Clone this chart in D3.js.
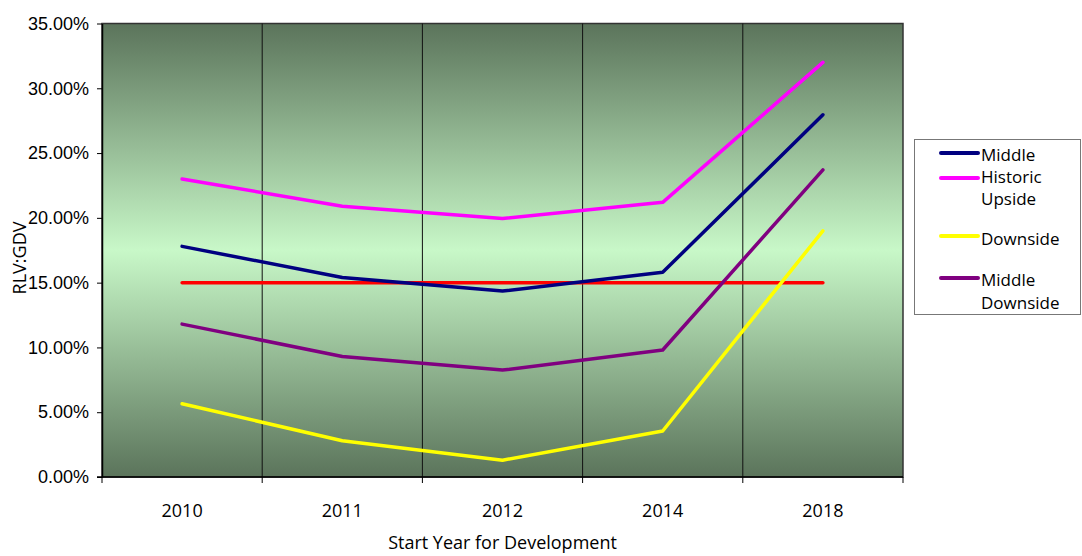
<!DOCTYPE html>
<html>
<head>
<meta charset="utf-8">
<script src="https://cdn.jsdelivr.net/npm/d3@7"></script>
<style>
  body { margin: 0; background: #fff; }
  svg { font-family: "Open Sans", Lato, sans-serif; }
</style>
</head>
<body>
<svg id="chart" width="1082" height="556"></svg>
<script>
// chart data (percent values)
const years = ["2010", "2011", "2012", "2014", "2018"];
const middleHistoric = [17.8, 15.4, 14.35, 15.8, 27.95];
const upside = [23.0, 20.9, 19.95, 21.2, 32.0];
const downside = [5.65, 2.8, 1.3, 3.55, 19.0];
const middleDownside = [11.8, 9.3, 8.25, 9.8, 23.7];
const benchmark = [15, 15, 15, 15, 15];
const yTicks = [0, 5, 10, 15, 20, 25, 30, 35];

const series = [
  { name: "Middle Historic", values: middleHistoric, color: "#000080", legend: ["Middle", "Historic"] },
  { name: "Upside", values: upside, color: "#ff00ff", legend: ["Upside"] },
  { name: "Downside", values: downside, color: "#ffff00", legend: ["Downside"] },
  { name: "Middle Downside", values: middleDownside, color: "#800080", legend: ["Middle", "Downside"] },
  { name: "Benchmark", values: benchmark, color: "#ff0000", legend: null }
];

const margin = { top: 23.5, right: 179, bottom: 79, left: 102 };
const width = 1082, height = 556;
const fs = 18;
const svg = d3.select("#chart");

const x = d3.scaleBand().domain(years).range([margin.left, width - margin.right]).paddingInner(0).paddingOuter(0);
const y = d3.scaleLinear().domain([0, 35]).range([height - margin.bottom, margin.top]);

// background gradient
const defs = svg.append("defs");
const grad = defs.append("linearGradient").attr("id", "bg").attr("x1", 0).attr("y1", 0).attr("x2", 0).attr("y2", 1);
grad.append("stop").attr("offset", "0%").attr("stop-color", "#5b745b");
grad.append("stop").attr("offset", "50%").attr("stop-color", "#c8f8c8");
grad.append("stop").attr("offset", "100%").attr("stop-color", "#5b745b");

svg.append("rect")
    .attr("x", x.range()[0])
    .attr("y", y(35))
    .attr("width", x.range()[1] - x.range()[0])
    .attr("height", y(0) - y(35))
    .attr("fill", "url(#bg)")
    .attr("stroke", "#333")
    .attr("stroke-width", 1.5);

// vertical gridlines between categories
const bounds = years.map(d => x(d)).concat([x.range()[1]]);
svg.append("g").selectAll("line")
    .data(bounds.slice(1, -1))
    .enter().append("line")
    .attr("x1", d => d).attr("x2", d => d)
    .attr("y1", y(35)).attr("y2", y(0))
    .attr("stroke", "#111").attr("stroke-width", 1);

// y axis
const yAxis = svg.append("g")
    .attr("transform", "translate(" + margin.left + ",0)")
    .call(d3.axisLeft(y).tickValues(yTicks).tickSize(5).tickSizeOuter(0).tickFormat(d => d.toFixed(2) + "%"));
yAxis.select(".domain").attr("stroke", "#000").attr("stroke-width", 1.5);
yAxis.selectAll("text").attr("font-size", fs).attr("fill", "#000").attr("x", -13);

// x axis: line, ticks at category boundaries, labels at centres
svg.append("line")
    .attr("x1", margin.left - 5).attr("x2", x.range()[1])
    .attr("y1", y(0)).attr("y2", y(0))
    .attr("stroke", "#000").attr("stroke-width", 1.5);
svg.append("g").selectAll("line")
    .data(bounds)
    .enter().append("line")
    .attr("x1", d => d).attr("x2", d => d)
    .attr("y1", y(0)).attr("y2", y(0) + 6)
    .attr("stroke", "#000");
svg.append("g").selectAll("text")
    .data(years)
    .enter().append("text")
    .attr("x", d => x(d) + x.bandwidth() / 2)
    .attr("y", 517)
    .attr("text-anchor", "middle")
    .attr("font-size", fs)
    .text(d => d);

// axis titles
svg.append("text")
    .attr("x", (x.range()[0] + x.range()[1]) / 2)
    .attr("y", 549)
    .attr("text-anchor", "middle")
    .attr("font-size", fs)
    .text("Start Year for Development");
svg.append("text")
    .attr("transform", "translate(26,258) rotate(-90)")
    .attr("text-anchor", "middle")
    .attr("font-size", fs)
    .text("RLV:GDV");

// lines
const line = d3.line()
    .x((d, i) => x(years[i]) + x.bandwidth() / 2)
    .y(d => y(d));

// red benchmark drawn under the other series
[4, 0, 1, 2, 3].forEach(i => {
  const s = series[i];
  svg.append("path")
      .datum(s.values)
      .attr("d", line)
      .attr("fill", "none")
      .attr("stroke", s.color)
      .attr("stroke-width", 3.5)
      .attr("stroke-linejoin", "round")
      .attr("stroke-linecap", "round");
});

// legend
const legend = svg.append("g");
legend.append("rect")
    .attr("x", 914.5).attr("y", 139.5)
    .attr("width", 166).attr("height", 175)
    .attr("fill", "#fff").attr("stroke", "#777").attr("stroke-width", 1);

const legendY = [153, 178, 236, 278];
const legendText = [[161, 183], [205], [245], [286, 309]];
series.filter(s => s.legend).forEach((s, i) => {
  const ly = legendY[i];
  legend.append("line")
      .attr("x1", 941).attr("x2", 978)
      .attr("y1", ly).attr("y2", ly)
      .attr("stroke", s.color).attr("stroke-width", 4)
      .attr("stroke-linecap", "round");
  s.legend.forEach((t, j) => {
    legend.append("text")
        .attr("x", 981)
        .attr("y", legendText[i][j])
        .attr("font-size", 17)
        .text(t);
  });
});
</script>
</body>
</html>
